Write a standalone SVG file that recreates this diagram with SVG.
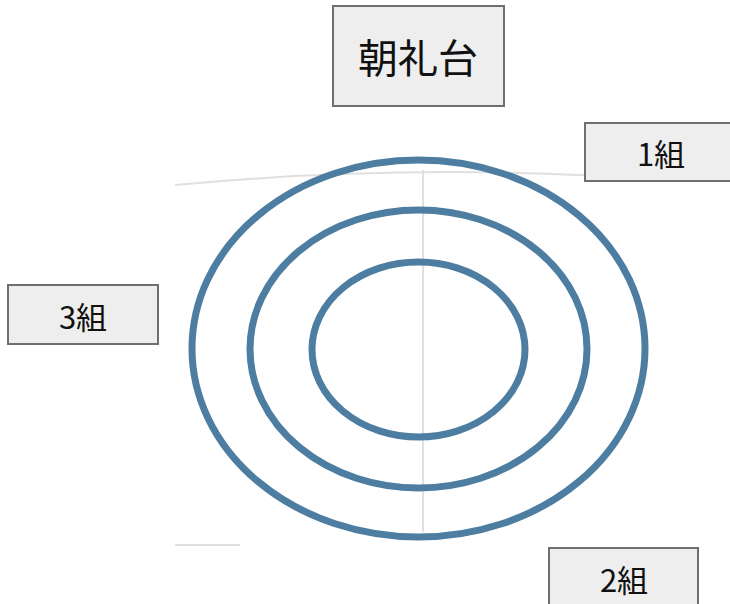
<svg xmlns="http://www.w3.org/2000/svg" width="730" height="604" viewBox="0 0 730 604">
<style>
.box{fill:#eeeeee;stroke:#6f6f6f;stroke-width:2}
.lbl{font-family:"Noto Sans CJK JP","Noto Sans",sans-serif;fill:#111;text-anchor:middle;dominant-baseline:central}
.ring{fill:none;stroke:#4d7ea2;stroke-width:7}
.guide{fill:none;stroke:#e0e0e0;stroke-width:2}
</style>
<rect width="730" height="604" fill="#ffffff"/>
<g id="background">
<path class="guide" d="M175 185 Q420 162 660 180"/>
<line class="guide" x1="423" y1="170" x2="423" y2="532"/>
<path class="guide" d="M175 545 L240 545" stroke="#e6e6e6"/>
</g>
<g id="rings">
<ellipse id="ring-outer" class="ring" cx="418.5" cy="348.5" rx="226.5" ry="188.5"/>
<ellipse id="ring-middle" class="ring" cx="418.5" cy="349" rx="168.5" ry="139"/>
<ellipse id="ring-inner" class="ring" cx="418.5" cy="349.5" rx="106.5" ry="87.5"/>
</g>
<g id="stage">
<rect class="box" x="333" y="6" width="171" height="100"/>
<text class="lbl" x="418" y="56" font-size="40">朝礼台</text>
</g>
<g id="group1">
<rect class="box" x="585" y="123" width="160" height="58"/>
<text class="lbl" x="661" y="152" font-size="31">1組</text>
</g>
<g id="group3">
<rect class="box" x="8" y="285" width="150" height="59"/>
<text class="lbl" x="83" y="315" font-size="31">3組</text>
</g>
<g id="group2">
<rect class="box" x="549" y="548" width="149" height="70"/>
<text class="lbl" x="624" y="578" font-size="31">2組</text>
</g>
<g id="connectors"></g>
</svg>
